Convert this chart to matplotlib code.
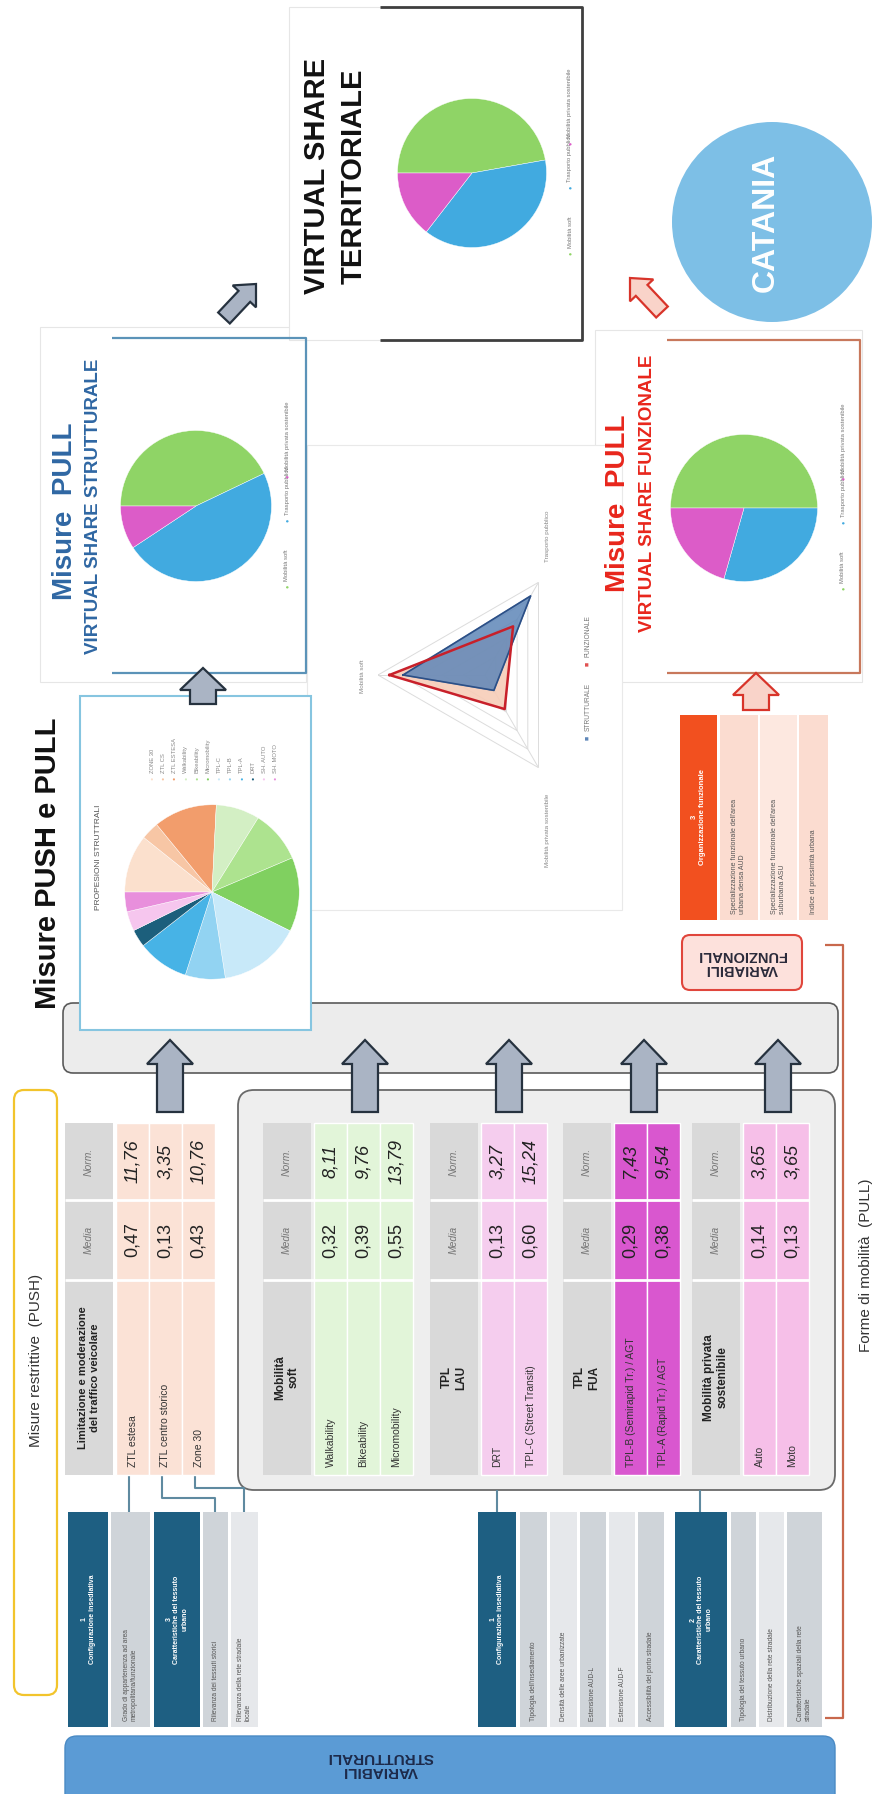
import matplotlib
matplotlib.use("Agg")
import matplotlib.pyplot as plt
from matplotlib.patches import FancyBboxPatch, Rectangle, Circle, FancyArrow
import numpy as np

plt.rcParams['font.family'] = ['Liberation Sans', 'DejaVu Sans']

# ---------------- data ----------------
modes = ['Mobilità soft', 'Trasporto pubblico', 'Mobilità privata sostenibile']
mode_colors = ['#8fd466', '#41aae0', '#dc5cc8']
share_strutturale = [42.9, 47.8, 9.3]
share_funzionale = [50.0, 29.4, 20.6]
share_territoriale = [47.2, 38.3, 14.5]

push_title = 'Limitazione e moderazione\ndel traffico veicolare'
push_labels = ['ZTL estesa', 'ZTL centro storico', 'Zone 30']
push_media = [0.47, 0.13, 0.43]
push_norm = [11.76, 3.35, 10.76]

soft_labels = ['Walkability', 'Bikeability', 'Micromobility']
soft_media = [0.32, 0.39, 0.55]
soft_norm = [8.11, 9.76, 13.79]

lau_labels = ['DRT', 'TPL-C (Street Transit)']
lau_media = [0.13, 0.60]
lau_norm = [3.27, 15.24]

fua_labels = ['TPL-B (Semirapid Tr.) / AGT', 'TPL-A (Rapid Tr.) / AGT']
fua_media = [0.29, 0.38]
fua_norm = [7.43, 9.54]

priv_labels = ['Auto', 'Moto']
priv_media = [0.14, 0.13]
priv_norm = [3.65, 3.65]

prop_labels = ['ZONE 30', 'ZTL CS', 'ZTL ESTESA', 'Walkability', 'Bikeability',
               'Micromobility', 'TPL-C', 'TPL-B', 'TPL-A', 'DRT', 'SH. AUTO', 'SH. MOTO']
prop_values = [10.76, 3.35, 11.76, 8.11, 9.76, 13.79, 15.24, 7.43, 9.54, 3.27, 3.65, 3.65]
prop_colors = ['#fbe0cd', '#f7c6a5', '#f29d6c', '#d3efc4', '#ade38f', '#80d060',
               '#c8e9f9', '#92d3f2', '#47b3e6', '#1c5f7c', '#f6c6ee', '#e88fdc']

var_push = [('1\nConfigurazione insediativa', 'dark'),
            ("Grado di appartenenza ad area\nmetropolitana/funzionale", 'gray'),
            ('3\nCaratteristiche del tessuto\nurbano', 'dark'),
            ('Rilevanza dei tessuti storici', 'gray'),
            ('Rilevanza della rete stradale\nlocale', 'light')]
var_pull1 = [('1\nConfigurazione insediativa', 'dark'),
             ("Tipologia dell'insediamento", 'gray'),
             ('Densità delle aree urbanizzate', 'light'),
             ('Estensione AUD-L', 'gray'),
             ('Estensione AUD-F', 'light'),
             ('Accessibilità del porto stradale', 'gray')]
var_pull2 = [('2\nCaratteristiche del tessuto\nurbano', 'dark'),
             ('Tipologia del tessuto urbano', 'gray'),
             ('Distribuzione della rete stradale', 'light'),
             ('Caratteristiche spaziali della rete\nstradale', 'gray')]
var_funz = ["Specializzazione funzionale dell'area\nurbana densa AUD",
            "Specializzazione funzionale dell'area\nsuburbana ASU",
            'Indice di prossimità urbana']

# ---------------- canvas ----------------
W, H = 880, 1794
fig = plt.figure(figsize=(W / 100, H / 100), dpi=100)
ax = fig.add_axes([0, 0, 1, 1])
ax.set_xlim(0, W)
ax.set_ylim(H, 0)
ax.axis('off')


def inset(cx, cy, r, **kw):
    return fig.add_axes([(cx - r) / W, 1 - (cy + r) / H, 2 * r / W, 2 * r / H], **kw)


def box(x0, y0, x1, y1, fc='white', ec='none', lw=1, rs=0, z=1):
    if rs:
        p = FancyBboxPatch((x0, y0), x1 - x0, y1 - y0, boxstyle=f'round,pad=0,rounding_size={rs}',
                           fc=fc, ec=ec, lw=lw, zorder=z)
    else:
        p = Rectangle((x0, y0), x1 - x0, y1 - y0, fc=fc, ec=ec, lw=lw, zorder=z)
    ax.add_patch(p)


def line(xs, ys, c, lw=1.5, z=2):
    ax.plot(xs, ys, color=c, lw=lw, zorder=z, solid_capstyle='butt')


def vt(x, y, s, size, **kw):
    kw.setdefault('ha', 'center')
    kw.setdefault('va', 'center')
    ax.text(x, y, s, rotation=90, fontsize=size, zorder=10, **kw)


def arrow(x0, y0, x1, y1, fc, ec, w=26, hw=46, hl=24):
    ax.add_patch(FancyArrow(x0, y0, x1 - x0, y1 - y0, width=w, head_width=hw, head_length=hl,
                            length_includes_head=True, fc=fc, ec=ec, lw=1.6, zorder=6))


def share_pie(cx, cy, r, shares):
    a = inset(cx, cy, r)
    a.pie(shares, colors=mode_colors, startangle=180, counterclock=False,
          wedgeprops=dict(edgecolor='white', linewidth=0.3))
    a.set_xlim(-1.02, 1.02)
    a.set_ylim(-1.02, 1.02)
    a.axis('off')


def pie_legend(x, ys):
    for yy, lab, c in zip(ys, modes, mode_colors):
        ax.text(x, yy, '\u25CF', rotation=90, fontsize=4, color=c, ha='center', va='center', zorder=10)
        ax.text(x, yy - 5, lab, rotation=90, rotation_mode='anchor', fontsize=4.2,
                color='#777777', ha='left', va='center', zorder=10)


GRAY_ARROW = ('#aab4c4', '#26323f')

# ---------------- top: virtual share boxes ----------------
# strutturale
box(40, 327, 306, 682, fc='white', ec='#e6e6e6', lw=0.8)
line([112, 306, 306, 112], [338, 338, 673, 673], '#5b93b8', lw=1.6, z=3)
vt(65, 511, 'Misure  PULL', 20, fontweight='bold', color='#2f67a3')
vt(94, 506, 'VIRTUAL SHARE STRUTTURALE', 13.5, fontweight='bold', color='#2f67a3')
share_pie(196, 506, 77, share_strutturale)
pie_legend(287, [586, 520, 476])

# territoriale
box(289, 7, 582, 340, fc='white', ec='#e6e6e6', lw=0.8)
line([380, 582, 582, 380], [7, 7, 340, 340], '#3f3f3f', lw=2, z=3)
vt(317, 176, 'VIRTUAL SHARE', 21, fontweight='bold', color='#111111')
vt(354, 176, 'TERRITORIALE', 21, fontweight='bold', color='#111111')
share_pie(472, 173, 76, share_territoriale)
pie_legend(570, [253, 187, 143])

# funzionale
box(595, 330, 862, 682, fc='white', ec='#e6e6e6', lw=0.8)
line([667, 860, 860, 667], [340, 340, 673, 673], '#c8785c', lw=1.6, z=3)
vt(618, 503, 'Misure  PULL', 20, fontweight='bold', color='#e8261c')
vt(648, 493, 'VIRTUAL SHARE FUNZIONALE', 13.5, fontweight='bold', color='#e8261c')
share_pie(744, 508, 75, share_funzionale)
pie_legend(843, [588, 522, 478])

# catania
ax.add_patch(Circle((772, 222), 100, fc='#7dbfe6', ec='none', zorder=2))
vt(766, 222, 'CATANIA', 23, fontweight='bold', color='white')

# diagonal arrows
arrow(224, 318, 256, 284, *GRAY_ARROW, w=16, hw=32, hl=17)
arrow(662, 312, 630, 278, '#f9d3c9', '#d8342a', w=16, hw=32, hl=17)

# ---------------- proposioni strutturali ----------------
box(80, 696, 311, 1030, fc='white', ec='#86c5e0', lw=1.5, z=3)
vt(98, 857, 'PROPESIONI STRUTTRALI', 6, color='#555555')
pa = inset(212, 892, 89)
pa.pie(prop_values, colors=prop_colors, startangle=180, counterclock=False,
       wedgeprops=dict(edgecolor='white', linewidth=0.3))
pa.set_xlim(-1.02, 1.02)
pa.set_ylim(-1.02, 1.02)
pa.axis('off')
pa.set_zorder(4)
for i, (lab, c) in enumerate(zip(prop_labels, prop_colors)):
    xx = 152 + i * 11.2
    ax.text(xx, 778, '\u25CF', rotation=90, fontsize=3.8, color=c, ha='center', va='center', zorder=10)
    ax.text(xx, 773, lab, rotation=90, rotation_mode='anchor', fontsize=4.2, color='#888888',
            ha='left', va='center', zorder=10)
arrow(203, 704, 203, 668, *GRAY_ARROW, w=26, hw=46, hl=22)

# ---------------- radar ----------------
box(307, 445, 622, 910, fc='white', ec='#e9e9e9', lw=0.8)
ra = inset(485, 675, 107, projection='polar')
ra.set_theta_offset(np.pi)
ra.set_theta_direction(-1)
ra.set_ylim(0, 56)
ra.set_axis_off()
theta = np.array([0, 2 * np.pi / 3, 4 * np.pi / 3, 0])
for rr in [11.2, 22.4, 33.6, 44.8, 56]:
    ra.plot(theta, [rr] * 4, color='#dcdcdc', lw=0.7)
for t in theta[:3]:
    ra.plot([t, t], [0, 56], color='#dcdcdc', lw=0.7)
funz_closed = share_funzionale + share_funzionale[:1]
strut_closed = share_strutturale + share_strutturale[:1]
ra.fill(theta, funz_closed, color='#f7cdb8', alpha=0.9, zorder=2)
ra.fill(theta, strut_closed, color='#5e86b8', alpha=0.85, zorder=3)
ra.plot(theta, strut_closed, color='#2c4f86', lw=1.2, zorder=4)
ra.plot(theta, funz_closed, color='#c8202a', lw=1.8, zorder=5)
vt(362, 676, 'Mobilità soft', 4.5, color='#888888')
vt(547, 536, 'Trasporto pubblico', 4.5, color='#888888')
vt(547, 830, 'Mobilità privata sostenibile', 4.5, color='#888888')
ax.text(588, 738, '\u25A0', rotation=90, fontsize=5, color='#5e86b8', ha='center', va='center')
ax.text(588, 731, 'STRUTTURALE', rotation=90, rotation_mode='anchor', fontsize=4.8,
        color='#777777', ha='left', va='center')
ax.text(588, 664, '\u25A0', rotation=90, fontsize=5, color='#e05050', ha='center', va='center')
ax.text(588, 657, 'FUNZIONALE', rotation=90, rotation_mode='anchor', fontsize=4.8,
        color='#777777', ha='left', va='center')

# ---------------- variabili funzionali ----------------
box(680, 715, 717, 920, fc='#f2501f')
vt(698, 817, '3\nOrganizzazione funzionale', 5.5, color='white', fontweight='bold')
fx = [(720, 758), (760, 797), (799, 828)]
for (x0, x1), lab, fc in zip(fx, var_funz, ['#fbdcd0', '#fde8e0', '#fbdcd0']):
    box(x0, 715, x1, 920, fc=fc)
    ax.text((x0 + x1) / 2, 914, lab, rotation=90, rotation_mode='anchor', fontsize=5,
            color='#555555', ha='left', va='center', zorder=10)
arrow(756, 710, 756, 673, '#f9d3c9', '#d8342a', w=26, hw=46, hl=22)
box(682, 935, 802, 990, fc='#fde1dc', ec='#e0463c', lw=1.5, rs=8, z=3)
ax.text(742, 962, 'VARIABILI\nFUNZIONALI', rotation=180, fontsize=10.5, fontweight='bold',
        color='#2a2a3a', ha='center', va='center', zorder=10, linespacing=1.0)

# ---------------- connector bar ----------------
box(63, 1003, 838, 1073, fc='#ececec', ec='#5a5a5a', lw=1.2, rs=10, z=2)
vt(48, 863, 'Misure PUSH e PULL', 21, fontweight='bold', color='#111111')

# ---------------- push ----------------
box(14, 1090, 57, 1695, fc='white', ec='#f2c42c', lw=1.6, rs=10)
vt(36, 1360, 'Misure restrittive  (PUSH)', 11, color='#333333')

Y_NORM, Y_MEDIA, Y_LAB, Y_END = 1123, 1200, 1280, 1475


def fmt(v):
    return f'{v:.2f}'.replace('.', ',')


def table(x0, title, labels, media, norm, row_fc, head_w=48, row_w=33, tsize=8.5):
    box(x0, Y_NORM, x0 + head_w, Y_END, fc='#d9d9d9', z=3)
    vt(x0 + head_w / 2, (Y_LAB + Y_END) / 2, title, tsize, fontweight='bold', color='#222222')
    vt(x0 + head_w / 2, (Y_MEDIA + Y_LAB) / 2, 'Media', 7.5, style='italic', color='#777777')
    vt(x0 + head_w / 2, (Y_NORM + Y_MEDIA) / 2, 'Norm.', 7.5, style='italic', color='#777777')
    xr = x0 + head_w + 3
    for lab, m, n in zip(labels, media, norm):
        box(xr, Y_NORM, xr + row_w, Y_END, fc=row_fc, ec='white', lw=1, z=3)
        ax.text(xr + row_w / 2, Y_END - 8, lab, rotation=90, rotation_mode='anchor', fontsize=7.5,
                color='#333333', ha='left', va='center', zorder=10)
        vt(xr + row_w / 2, (Y_MEDIA + Y_LAB) / 2, fmt(m), 13, color='#222222')
        vt(xr + row_w / 2, (Y_NORM + Y_MEDIA) / 2, fmt(n), 13, style='italic', color='#222222')
        xr += row_w
    x_end = xr
    for yy in (Y_MEDIA, Y_LAB):
        line([x0, x_end], [yy, yy], 'white', lw=2, z=4)
    return x_end


table(65, push_title, push_labels, push_media, push_norm, '#fbe2d6', tsize=8)
arrow(170, 1112, 170, 1040, *GRAY_ARROW)

# ---------------- pull container ----------------
box(238, 1090, 835, 1490, fc='#eeeeee', ec='#6a6a6a', lw=1.3, rs=16, z=2)
table(263, 'Mobilità\nsoft', soft_labels, soft_media, soft_norm, '#e2f5d9')
table(430, 'TPL\nLAU', lau_labels, lau_media, lau_norm, '#f5cdee')
table(563, 'TPL\nFUA', fua_labels, fua_media, fua_norm, '#d957cf')
table(692, 'Mobilità privata\nsostenibile', priv_labels, priv_media, priv_norm, '#f6bfe8')
for xa in [365, 509, 644, 778]:
    arrow(xa, 1112, xa, 1040, *GRAY_ARROW)

# bracket PULL
line([825, 843, 843, 825], [945, 945, 1718, 1718], '#c8684c', lw=1.6)
vt(866, 1265, 'Forme di mobilità  (PULL)', 11, color='#333333')

# ---------------- variabili strutturali ----------------
VY0, VY1 = 1512, 1727
fills = {'dark': '#1e5f82', 'gray': '#cfd4d9', 'light': '#e6e8eb'}


def var_group(xs, items):
    for (x0, x1), (lab, kind) in zip(xs, items):
        box(x0, VY0, x1, VY1, fc=fills[kind], z=3)
        if kind == 'dark':
            vt((x0 + x1) / 2, (VY0 + VY1) / 2, lab, 5, color='white', fontweight='bold')
        else:
            ax.text((x0 + x1) / 2, VY1 - 6, lab, rotation=90, rotation_mode='anchor', fontsize=4.8,
                    color='#555555', ha='left', va='center', zorder=10)


var_group([(68, 108), (111, 150), (154, 200), (203, 228), (231, 258)], var_push)
var_group([(478, 516), (520, 547), (550, 577), (580, 606), (609, 635), (638, 664)], var_pull1)
var_group([(675, 727), (731, 756), (759, 784), (787, 822)], var_pull2)

CONN = '#5f8aa0'
line([129, 129], [Y_END, VY0], CONN)
line([162, 162, 215, 215], [Y_END, 1498, 1498, VY0], CONN)
line([195, 195, 244, 244], [Y_END, 1488, 1488, VY0], CONN)
line([497, 497], [1490, VY0], CONN)
line([700, 700], [1490, VY0], CONN)

box(65, 1736, 835, 1810, fc='#5b9bd5', ec='#4a8ac4', lw=1, rs=12, z=3)
ax.text(380, 1764, 'VARIABILI\nSTRUTTURALI', rotation=180, fontsize=11, fontweight='bold',
        color='#1d2a4a', ha='center', va='center', zorder=10, linespacing=1.0)

fig.savefig('out.png', dpi=100, facecolor='white')
